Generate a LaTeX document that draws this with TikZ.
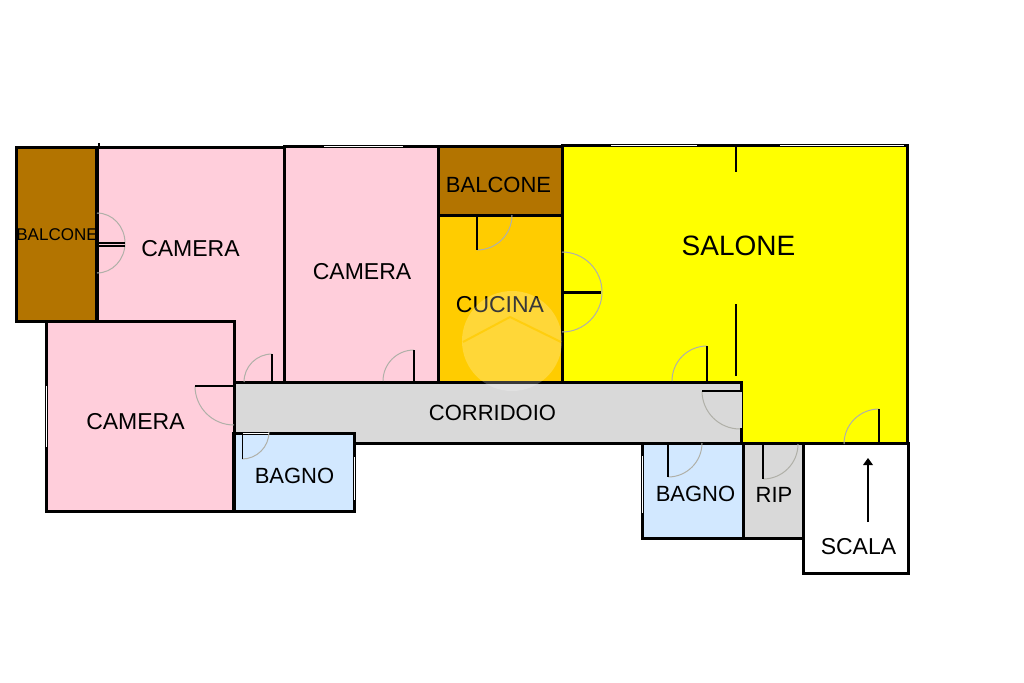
\documentclass[tikz,border=0pt]{standalone}
\usepackage{fontspec}
\setmainfont{Liberation Sans}
\definecolor{pinkroom}{HTML}{FFCEDB}
\definecolor{brownroom}{HTML}{B37400}
\definecolor{orangeroom}{HTML}{FFCC00}
\definecolor{yellowroom}{HTML}{FFFF00}
\definecolor{greyroom}{HTML}{D9D9D9}
\definecolor{blueroom}{HTML}{D2E8FF}
\definecolor{swing}{HTML}{B0B0A8}
\tikzset{
  wall/.style={draw=black,line width=3pt,line join=miter},
  room/.style={wall},
  leaf/.style={draw=black,line width=2pt},
  swingarc/.style={draw=swing,line width=1pt},
  windowline/.style={draw=white,line width=1pt},
  lab/.style={text=black,inner sep=0pt,anchor=center},
}
\newcommand{\fs}[1]{\fontsize{#1}{#1}\selectfont}
\begin{document}
\begin{tikzpicture}[x=1pt,y=-1pt]
\useasboundingbox (0,0) rectangle (1024,682);
\fill[white] (0,0) rectangle (1024,682);
% rooms
\path[room,fill=pinkroom] (97,147.5) -- (284,147.5) -- (284,382.5) -- (234.3,382.5) -- (234.3,321.7) -- (97,321.7) -- cycle;
\path[room,fill=pinkroom] (284,146.5) -- (438.8,146.5) -- (438.8,382.5) -- (284,382.5) -- cycle;
\path[room,fill=pinkroom] (46.7,321.7) -- (234.3,321.7) -- (234.3,511.3) -- (46.7,511.3) -- cycle;
\path[room,fill=yellowroom] (562,145.5) -- (907.5,145.5) -- (907.5,443.7) -- (741.7,443.7) -- (741.7,382.5) -- (562,382.5) -- cycle;
\path[room,fill=orangeroom] (438.8,215.3) -- (562,215.3) -- (562,382.5) -- (438.8,382.5) -- cycle;
\path[room,fill=brownroom] (438.8,146.5) -- (562,146.5) -- (562,215.3) -- (438.8,215.3) -- cycle;
\path[room,fill=brownroom] (16.5,147.5) -- (97,147.5) -- (97,321.7) -- (16.5,321.7) -- cycle;
\path[room,fill=greyroom] (234.3,382.5) -- (741.7,382.5) -- (741.7,443.7) -- (234.3,443.7) -- cycle;
\path[room,fill=blueroom,line width=3.5pt] (234,433.7) -- (354.3,433.7) -- (354.3,511.7) -- (234,511.7) -- cycle;
\path[room,fill=blueroom] (642.7,443.7) -- (743,443.7) -- (743,538) -- (642.7,538) -- cycle;
\path[room,fill=greyroom] (743,443.7) -- (803.8,443.7) -- (803.8,538) -- (743,538) -- cycle;
\path[room,fill=white] (803.8,443.7) -- (908,443.7) -- (908,573.7) -- (803.8,573.7) -- cycle;
\draw[line width=3.5pt] (97,149) -- (97,320);
\draw[line width=2pt] (99,143) -- (99,148);
% windows
\draw[windowline] (611,145.8) -- (697,145.8);
\draw[windowline] (780,145.8) -- (904,145.8);
\draw[windowline] (324,146.5) -- (403,146.5);
\draw[windowline] (46.5,386) -- (46.5,447);
\draw[windowline] (354.5,457) -- (354.5,500);
\draw[windowline] (642.5,456) -- (642.5,513);
% thin wall where the corridor door opens
\draw[draw=greyroom,line width=1.5pt] (740.9,392) -- (740.9,428);
% door swings
\draw[swingarc] (97,213) arc[start angle=90,end angle=-90,x radius=28pt,y radius=30pt];
\draw[swingarc] (272,354) arc[start angle=90,end angle=180,radius=28pt];
\draw[swingarc] (195,386) arc[start angle=180,end angle=270,radius=39pt];
\draw[swingarc] (242,459) arc[start angle=270,end angle=360,radius=27pt];
\draw[swingarc] (414,350) arc[start angle=90,end angle=180,radius=31pt];
\draw[swingarc] (477,250) arc[start angle=270,end angle=360,radius=35pt];
\draw[swingarc] (562,252) arc[start angle=90,end angle=-90,radius=40pt];
\draw[swingarc] (707,346) arc[start angle=90,end angle=180,radius=35pt];
\draw[swingarc] (702,391) arc[start angle=180,end angle=270,radius=38pt];
\draw[swingarc] (668,477) arc[start angle=270,end angle=360,radius=34pt];
\draw[swingarc] (763,479) arc[start angle=270,end angle=360,radius=35pt];
\draw[swingarc] (879,409) arc[start angle=90,end angle=180,radius=35pt];
% door leaves
\draw[leaf] (97,242.7) -- (125,242.7);
\draw[leaf] (97,246.3) -- (125,246.3);
\draw[leaf,line width=1.5pt] (272,354) -- (272,381);
\draw[leaf] (195,386) -- (234,386);
\draw[windowline] (242,433.3) -- (269,433.3);
\draw[leaf,line width=1pt] (242,433) -- (242,459);
\draw[leaf] (414,350) -- (414,381);
\draw[leaf] (477,215) -- (477,250);
\draw[leaf,line width=3pt] (562,292) -- (601,292);
\draw[leaf] (707,346) -- (707,381);
\draw[leaf] (702,391) -- (741,391);
\draw[leaf] (668,444) -- (668,477);
\draw[leaf] (763,444) -- (763,479);
\draw[leaf] (879,409) -- (879,444);
% partial walls of the living room
\draw[leaf] (736,146) -- (736,172);
\draw[leaf] (736,304) -- (736,376);
% labels
\node[lab,font=\fs{17}] (balconeA) at (57,235) {BALCONE};
\node[lab,font=\fs{23}] (cameraA) at (190.5,249) {CAMERA};
\node[lab,font=\fs{23}] (cameraB) at (362,272) {CAMERA};
\node[lab,font=\fs{23}] (cameraC) at (135.5,422) {CAMERA};
\node[lab,font=\fs{22}] (balconeB) at (498.5,185) {BALCONE};
\node[lab,font=\fs{23}] (cucina) at (500,305) {CUCINA};
\node[lab,font=\fs{28}] (salone) at (738.5,245.5) {SALONE};
\node[lab,font=\fs{22}] (corridoio) at (492.5,413) {CORRIDOIO};
\node[lab,font=\fs{22}] (bagnoA) at (294.5,476) {BAGNO};
\node[lab,font=\fs{22}] (bagnoB) at (695.5,494) {BAGNO};
\node[lab,font=\fs{22}] (rip) at (774,495) {RIP};
\node[lab,font=\fs{23}] (scala) at (858.5,547) {SCALA};
% stair arrow
\coordinate (stairfoot) at (868,522);
\coordinate (stairhead) at (868,458);
\draw[line width=2pt] (stairfoot) -- (868,464);
\fill (stairhead) -- (873,465) -- (863,465) -- cycle;
% watermark
\fill[white,opacity=0.22] (512,341) circle[radius=50pt];
\draw[orangeroom,opacity=0.75,line width=2pt] (463,342) -- (510,317) -- (561,342);
\end{tikzpicture}
\end{document}
